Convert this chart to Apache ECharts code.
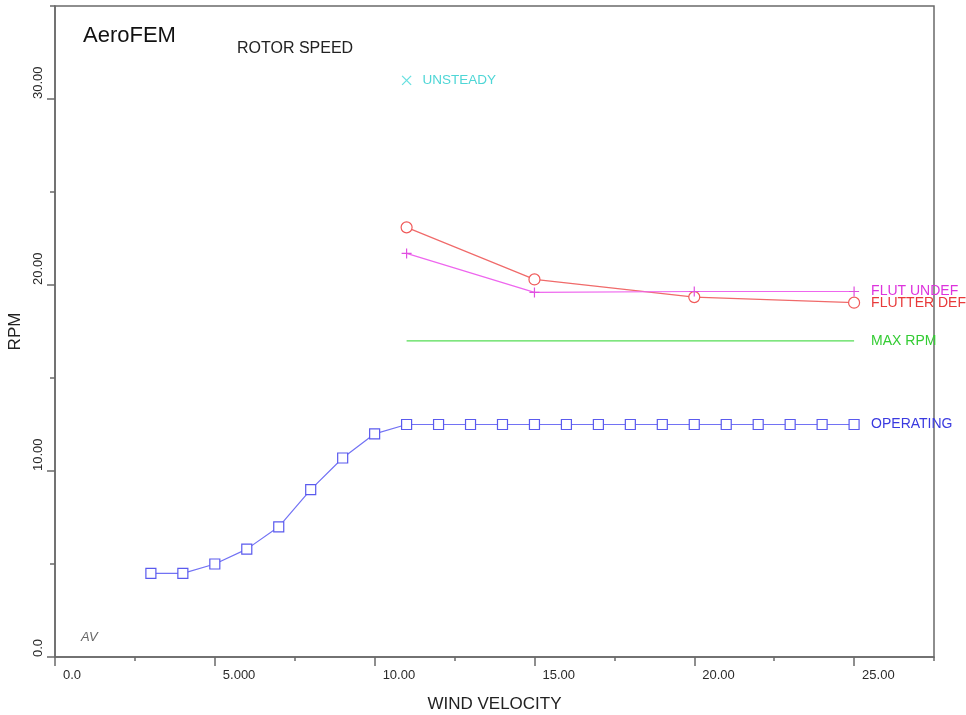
<!DOCTYPE html>
<html>
<head>
<meta charset="utf-8">
<title>AeroFEM - Rotor Speed</title>
<script src="https://cdn.jsdelivr.net/npm/echarts@6/dist/echarts.min.js"></script>
<style>
  html, body { margin: 0; padding: 0; background: #fff; }
  #chart { width: 966px; height: 715px; }
</style>
</head>
<body>
<div id="chart"></div>
<script>
// Operating curve: rotor speed vs wind velocity
const operatingWind = [3, 4, 5, 6, 7, 8, 9, 10, 11, 12, 13, 14, 15, 16, 17, 18, 19, 20, 21, 22, 23, 24, 25];
const operatingRpm = [4.5, 4.5, 5.0, 5.8, 7.0, 9.0, 10.7, 12.0, 12.5, 12.5, 12.5, 12.5, 12.5, 12.5, 12.5, 12.5, 12.5, 12.5, 12.5, 12.5, 12.5, 12.5, 12.5];

// Flutter speeds, deformed and undeformed blade
const flutterDefWind = [11, 15, 20, 25];
const flutterDefRpm = [23.1, 20.3, 19.35, 19.05];
const flutUndefWind = [11, 15, 20, 25];
const flutUndefRpm = [21.7, 19.6, 19.65, 19.65];

// Maximum allowed rotor speed
const maxRpmWind = [11, 25];
const maxRpmValue = [17, 17];

// Unsteady-analysis point
const unsteadyWind = [11];
const unsteadyRpm = [31];

// Tick labels
const xTickValues = [0, 5, 10, 15, 20, 25];
const xTickLabels = ['0.0', '5.000', '10.00', '15.00', '20.00', '25.00'];
const yTickValues = [0, 10, 20, 30];
const yTickLabels = ['0.0', '10.00', '20.00', '30.00'];

const FONT = 'Liberation Sans, Arial, sans-serif';
const AXIS_COLOR = '#6a6a6a';

function pairs(xs, ys) { return xs.map((x, i) => [x, ys[i]]); }
function tickLabel(values, labels) {
  return function (v) {
    const i = values.findIndex(t => Math.abs(t - v) < 1e-9);
    return i >= 0 ? labels[i] : '';
  };
}

const plusPath = 'path://M5,0L5,10M0,5L10,5';
const crossPath = 'path://M0,0L10,10M10,0L0,10';

const chart = echarts.init(document.getElementById('chart'), null, { renderer: 'canvas' });

const baseX = {
  type: 'value', min: 0, max: 27.5, interval: 2.5,
  position: 'bottom', offset: 0,
  splitLine: { show: false }
};
const baseY = {
  type: 'value', min: 0, max: 35, interval: 5,
  position: 'left', offset: 0,
  splitLine: { show: false }
};

function endLabel(text, color) {
  return {
    show: true, formatter: text, distance: 17,
    color: color, fontFamily: FONT, fontSize: 14
  };
}

chart.setOption({
  animation: false,
  backgroundColor: '#ffffff',
  textStyle: { fontFamily: FONT },
  grid: {
    left: 55, right: 32, top: 6, bottom: 58,
    outerBoundsMode: 'none',
    show: true, borderColor: AXIS_COLOR, borderWidth: 1.5,
    containLabel: false
  },
  xAxis: [
    Object.assign({}, baseX, {
      name: 'WIND VELOCITY', nameLocation: 'middle', nameGap: 39,
      nameTextStyle: { color: '#222', fontSize: 17, fontFamily: FONT },
      axisLine: { show: true, lineStyle: { color: AXIS_COLOR, width: 1.5 } },
      axisTick: { show: true, length: 4, lineStyle: { color: AXIS_COLOR, width: 1.5 } },
      axisLabel: {
        show: true, margin: 12, align: 'left', padding: [0, 0, 0, 8],
        color: '#2a2a2a', fontSize: 13, fontFamily: FONT,
        formatter: tickLabel(xTickValues, xTickLabels)
      }
    }),
    Object.assign({}, baseX, {
      axisLine: { show: false },
      axisLabel: { show: false },
      axisTick: { show: true, length: 9, customValues: xTickValues, lineStyle: { color: AXIS_COLOR, width: 1.5 } }
    })
  ],
  yAxis: [
    Object.assign({}, baseY, {
      name: 'RPM', nameLocation: 'middle', nameGap: 28, nameRotate: 90,
      nameTextStyle: { color: '#222', fontSize: 17, fontFamily: FONT },
      axisLine: { show: true, lineStyle: { color: AXIS_COLOR, width: 1.5 } },
      axisTick: { show: true, length: 5, lineStyle: { color: AXIS_COLOR, width: 1.5 } },
      axisLabel: {
        show: true, rotate: 90, margin: 10, align: 'left', verticalAlign: 'bottom',
        color: '#2a2a2a', fontSize: 13, fontFamily: FONT,
        formatter: tickLabel(yTickValues, yTickLabels)
      }
    }),
    Object.assign({}, baseY, {
      axisLine: { show: false },
      axisLabel: { show: false },
      axisTick: { show: true, length: 8, customValues: yTickValues, lineStyle: { color: AXIS_COLOR, width: 1.5 } }
    })
  ],
  graphic: [
    {
      type: 'text', left: 83, top: 25, silent: true,
      style: { text: 'AeroFEM', fontSize: 22, fontFamily: FONT, fill: '#111' }
    },
    {
      type: 'text', left: 237, top: 41, silent: true,
      style: { text: 'ROTOR SPEED', fontSize: 16, fontFamily: FONT, fill: '#222' }
    },
    {
      type: 'text', left: 81, top: 631, silent: true,
      style: { text: 'AV', fontSize: 13, fontStyle: 'italic', fontFamily: FONT, fill: '#666' }
    }
  ],
  series: [
    {
      name: 'OPERATING', type: 'line',
      data: pairs(operatingWind, operatingRpm),
      symbol: 'rect', symbolSize: 10, showSymbol: true,
      lineStyle: { color: '#7272f4', width: 1.2 },
      itemStyle: { color: '#ffffff', borderColor: '#5a5aee', borderWidth: 1.2 },
      endLabel: endLabel('OPERATING', '#3a3ae0'),
      z: 3
    },
    {
      name: 'MAX RPM', type: 'line',
      data: pairs(maxRpmWind, maxRpmValue),
      symbol: 'none',
      lineStyle: { color: '#55dd55', width: 1.2 },
      itemStyle: { color: '#55dd55' },
      endLabel: endLabel('MAX RPM', '#33cc33'),
      z: 2
    },
    {
      name: 'FLUTTER DEF', type: 'line',
      data: pairs(flutterDefWind, flutterDefRpm),
      symbol: 'circle', symbolSize: 11, showSymbol: true,
      lineStyle: { color: '#f06a6a', width: 1.2 },
      itemStyle: { color: '#ffffff', borderColor: '#f05a5a', borderWidth: 1.2 },
      endLabel: endLabel('FLUTTER DEF', '#e83a3a'),
      z: 4
    },
    {
      name: 'FLUT UNDEF', type: 'line',
      data: pairs(flutUndefWind, flutUndefRpm),
      symbol: plusPath, symbolSize: 10, showSymbol: true,
      lineStyle: { color: '#ee66ee', width: 1.2 },
      itemStyle: { color: 'none', borderColor: '#e050e0', borderWidth: 1.2 },
      endLabel: endLabel('FLUT UNDEF', '#dd33dd'),
      z: 5
    },
    {
      name: 'UNSTEADY', type: 'scatter',
      data: pairs(unsteadyWind, unsteadyRpm),
      symbol: crossPath, symbolSize: 9,
      itemStyle: { color: 'none', borderColor: '#44d8d8', borderWidth: 1.3 },
      label: {
        show: true, position: 'right', distance: 9, formatter: 'UNSTEADY',
        color: '#22cccc', fontFamily: FONT, fontSize: 13.5
      },
      z: 5
    }
  ]
});
</script>
</body>
</html>
